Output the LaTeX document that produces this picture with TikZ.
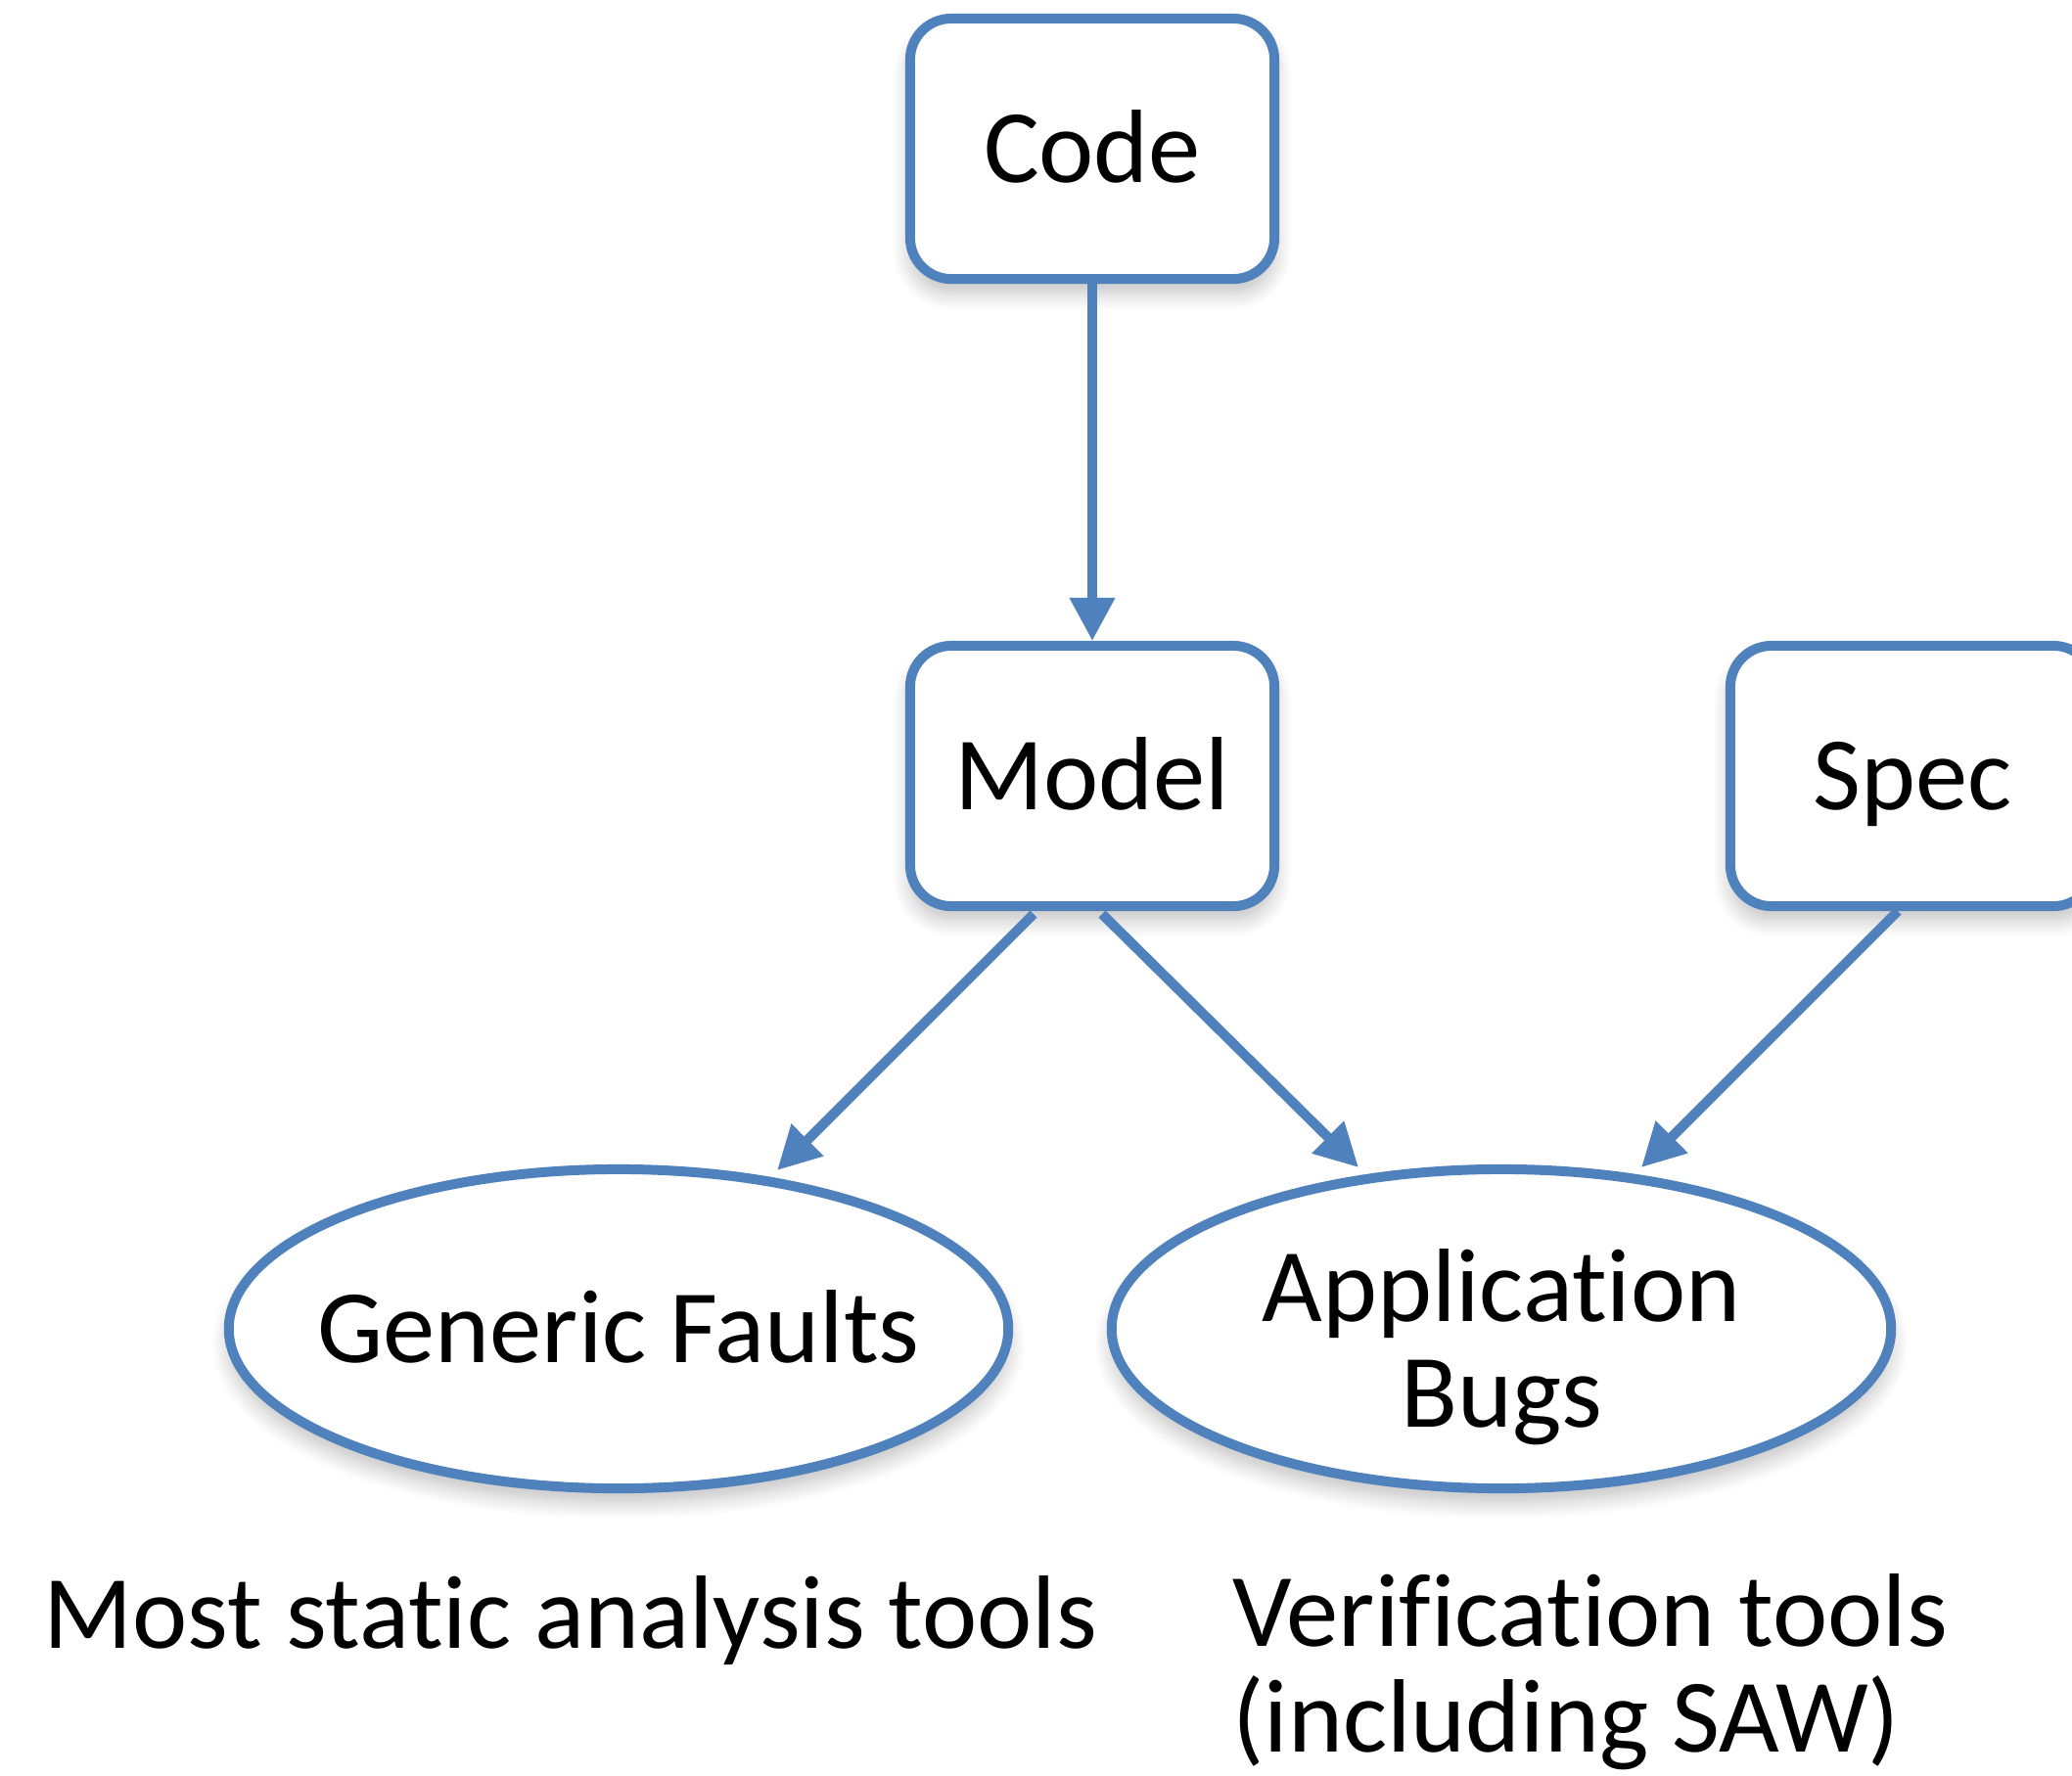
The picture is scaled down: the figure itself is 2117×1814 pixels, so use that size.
\documentclass[tikz,border=0pt]{standalone}
\usepackage{fontspec}
\setmainfont{Carlito}[Ligatures=NoCommon]
\usetikzlibrary{arrows.meta,shapes.geometric,calc,shadows.blur}
\definecolor{ublue}{RGB}{79,129,189}
\begin{document}
\begin{tikzpicture}[x=0.01cm,y=-0.01cm,
  font=\fontsize{30.3}{30.5}\selectfont,
  shad/.style={blur shadow={shadow xshift=0pt,shadow yshift=-4pt,shadow blur radius=5pt,shadow opacity=25,shadow blur steps=10}},
  box/.style={shad,draw=ublue,line width=0.1cm,rounded corners=0.42cm,fill=white,
    minimum width=3.72cm,minimum height=2.66cm,inner sep=0pt,text height=0.69cm,text depth=0cm},
  oval/.style={shad,ellipse,draw=ublue,line width=0.1cm,fill=white,
    minimum width=7.96cm,minimum height=3.26cm,inner sep=0pt,inner xsep=-1.5cm,align=center},
  arr/.style={draw=ublue,line width=0.1cm,-{Triangle[length=0.44cm,width=0.44cm]}},
  lbl/.style={anchor=base west,align=left,inner sep=0pt}]
\useasboundingbox (0,0) rectangle (2117,1814);
\node[box] (code) at (1116,152) {Code};
\node[box] (model) at (1116,793) {Model};
\node[box] (spec) at (1954,793) {Spec};
\node[oval,text height=0.69cm,text depth=0cm] (gf) at (632,1358) {Generic Faults};
\node[oval,text height=2cm,text depth=0cm] (ab) at (1534,1358) {Application\\Bugs};
\draw[arr] (code.south) -- (model.north);
\draw[arr] ($(model.south)+(-60,3)$) -- ($(gf.center)+(162,-162)$);
\draw[arr] ($(model.south)+(10,3)$) -- ($(ab.center)+(-146,-165)$);
\draw[arr] ($(spec.south)+(-15,0)$) -- ($(ab.center)+(143,-165)$);
\node[lbl] (most) at (44,1684) {Most static analysis tools};
\node[lbl] (ver) at (1259,1790) {Verification tools\\(including SAW)};
\end{tikzpicture}
\end{document}
